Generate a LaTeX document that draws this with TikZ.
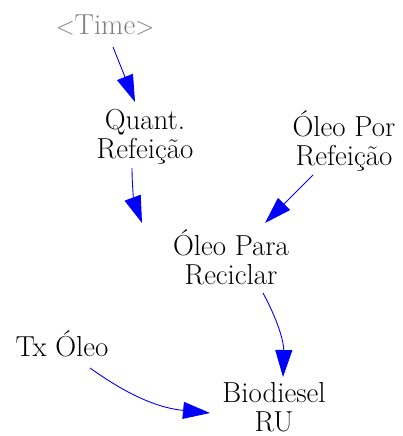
\documentclass[tikz,border=0pt]{standalone}
\usetikzlibrary{arrows.meta}
\definecolor{arrblue}{RGB}{0,0,255}
\definecolor{shadow}{RGB}{128,128,128}
\begin{document}
\begin{tikzpicture}[x=1pt,y=1pt,
 lbl/.style={align=center,inner sep=0pt,font=\fontsize{28.9}{29}\selectfont},
 arr/.style={draw=arrblue, line width=0.9pt, -{Triangle[length=27pt,width=17pt]}}]
\useasboundingbox (0,0) rectangle (403,-436);
\node[lbl, text=shadow] (time) at (105,-25) {$<$Time$>$};
\node[lbl] (quant) at (145,-137) {Quant.\\Refeição};
\node[lbl] (por) at (344,-141) {Óleo Por\\Refeição};
\node[lbl] (para) at (231,-257) {Óleo Para\\Reciclar};
\node[lbl] (tx) at (62,-344) {Tx Óleo};
\node[lbl] (bio) at (274,-407) {Biodiesel\\RU};
\draw[arr] ([shift={(8,-22)}]time.center) -- ([shift={(-10,35)}]quant.center);
\draw[arr] ([shift={(-13,-31)}]quant.center) to[bend right=10] ([shift={(-89,34)}]para.center);
\draw[arr] ([shift={(-31,-34)}]por.center) -- ([shift={(34,34)}]para.center);
\draw[arr] ([shift={(32,-36)}]para.center) to[bend left=15] ([shift={(9,30)}]bio.center);
\draw[arr] ([shift={(28,-24)}]tx.center) to[bend right=15] ([shift={(-64,-6)}]bio.center);
\end{tikzpicture}
\end{document}
